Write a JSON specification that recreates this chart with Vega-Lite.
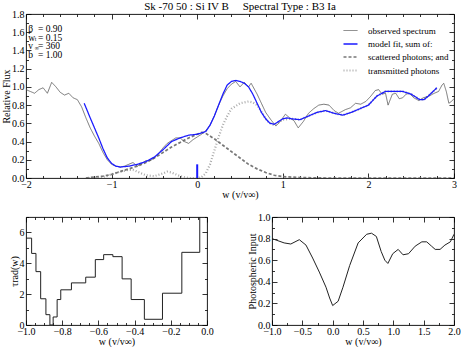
{
  "$schema": "https://vega.github.io/schema/vega-lite/v6.json",
  "background": "white",
  "padding": {"left": 0, "top": 0, "right": 0, "bottom": 0},
  "config": {
    "view": {"stroke": "black", "strokeWidth": 0.9},
    "axis": {
      "grid": false, "domain": false, "tickColor": "#000", "labelColor": "#000", "titleColor": "#000",
      "labelFont": "Liberation Serif", "titleFont": "Liberation Serif", "labelFontSize": 10, "titleFontSize": 10,
      "titleFontWeight": "normal", "labelFlush": false, "labelOverlap": false, "tickWidth": 0.8
    },
    "text": {"font": "Liberation Serif"}
  },
  "datasets": {
    "spec": [
      {"s": "\u00a0transmitted photons", "w": -1.3, "f": 0.0},
      {"s": "\u00a0transmitted photons", "w": -1.2, "f": 0.0},
      {"s": "\u00a0transmitted photons", "w": -1.1, "f": 0.01},
      {"s": "\u00a0transmitted photons", "w": -1.0, "f": 0.04},
      {"s": "\u00a0transmitted photons", "w": -0.9, "f": 0.07},
      {"s": "\u00a0transmitted photons", "w": -0.8, "f": 0.09},
      {"s": "\u00a0transmitted photons", "w": -0.75, "f": 0.09},
      {"s": "\u00a0transmitted photons", "w": -0.7, "f": 0.07},
      {"s": "\u00a0transmitted photons", "w": -0.6, "f": 0.03},
      {"s": "\u00a0transmitted photons", "w": -0.5, "f": 0.02},
      {"s": "\u00a0transmitted photons", "w": -0.4, "f": 0.05},
      {"s": "\u00a0transmitted photons", "w": -0.35, "f": 0.07},
      {"s": "\u00a0transmitted photons", "w": -0.3, "f": 0.06},
      {"s": "\u00a0transmitted photons", "w": -0.2, "f": 0.02},
      {"s": "\u00a0transmitted photons", "w": -0.1, "f": 0.0},
      {"s": "\u00a0transmitted photons", "w": 0.0, "f": 0.0},
      {"s": "\u00a0transmitted photons", "w": 0.05, "f": 0.01},
      {"s": "\u00a0transmitted photons", "w": 0.1, "f": 0.05},
      {"s": "\u00a0transmitted photons", "w": 0.15, "f": 0.15},
      {"s": "\u00a0transmitted photons", "w": 0.2, "f": 0.3},
      {"s": "\u00a0transmitted photons", "w": 0.25, "f": 0.45},
      {"s": "\u00a0transmitted photons", "w": 0.3, "f": 0.58},
      {"s": "\u00a0transmitted photons", "w": 0.35, "f": 0.68},
      {"s": "\u00a0transmitted photons", "w": 0.4, "f": 0.76},
      {"s": "\u00a0transmitted photons", "w": 0.5, "f": 0.82},
      {"s": "\u00a0transmitted photons", "w": 0.6, "f": 0.84},
      {"s": "\u00a0transmitted photons", "w": 0.65, "f": 0.83},
      {"s": "\u00a0transmitted photons", "w": 0.7, "f": 0.8},
      {"s": "\u00a0transmitted photons", "w": 0.75, "f": 0.73},
      {"s": "\u00a0transmitted photons", "w": 0.8, "f": 0.65},
      {"s": "\u00a0transmitted photons", "w": 0.85, "f": 0.6},
      {"s": "\u00a0transmitted photons", "w": 0.9, "f": 0.58},
      {"s": "\u00a0transmitted photons", "w": 1.0, "f": 0.64},
      {"s": "\u00a0transmitted photons", "w": 1.1, "f": 0.65},
      {"s": "\u00a0transmitted photons", "w": 1.2, "f": 0.64},
      {"s": "\u00a0transmitted photons", "w": 1.3, "f": 0.68},
      {"s": "\u00a0transmitted photons", "w": 1.4, "f": 0.72},
      {"s": "\u00a0transmitted photons", "w": 1.5, "f": 0.74},
      {"s": "\u00a0transmitted photons", "w": 1.6, "f": 0.71},
      {"s": "\u00a0transmitted photons", "w": 1.7, "f": 0.69},
      {"s": "\u00a0transmitted photons", "w": 1.8, "f": 0.72},
      {"s": "\u00a0transmitted photons", "w": 1.9, "f": 0.76},
      {"s": "\u00a0transmitted photons", "w": 2.0, "f": 0.8},
      {"s": "\u00a0transmitted photons", "w": 2.1, "f": 0.9},
      {"s": "\u00a0transmitted photons", "w": 2.2, "f": 0.95},
      {"s": "\u00a0transmitted photons", "w": 2.4, "f": 0.95},
      {"s": "\u00a0transmitted photons", "w": 2.5, "f": 0.92},
      {"s": "\u00a0transmitted photons", "w": 2.6, "f": 0.86},
      {"s": "\u00a0transmitted photons", "w": 2.65, "f": 0.86},
      {"s": "\u00a0transmitted photons", "w": 2.7, "f": 0.9},
      {"s": "\u00a0transmitted photons", "w": 2.8, "f": 0.99},
      {"s": "\u00a0scattered photons; and", "w": -1.3, "f": 0.0},
      {"s": "\u00a0scattered photons; and", "w": -1.2, "f": 0.01},
      {"s": "\u00a0scattered photons; and", "w": -1.1, "f": 0.02},
      {"s": "\u00a0scattered photons; and", "w": -1.0, "f": 0.04},
      {"s": "\u00a0scattered photons; and", "w": -0.9, "f": 0.07},
      {"s": "\u00a0scattered photons; and", "w": -0.8, "f": 0.1},
      {"s": "\u00a0scattered photons; and", "w": -0.7, "f": 0.13},
      {"s": "\u00a0scattered photons; and", "w": -0.6, "f": 0.17},
      {"s": "\u00a0scattered photons; and", "w": -0.5, "f": 0.22},
      {"s": "\u00a0scattered photons; and", "w": -0.4, "f": 0.28},
      {"s": "\u00a0scattered photons; and", "w": -0.3, "f": 0.34},
      {"s": "\u00a0scattered photons; and", "w": -0.2, "f": 0.39},
      {"s": "\u00a0scattered photons; and", "w": -0.1, "f": 0.44},
      {"s": "\u00a0scattered photons; and", "w": 0.0, "f": 0.48},
      {"s": "\u00a0scattered photons; and", "w": 0.05, "f": 0.5},
      {"s": "\u00a0scattered photons; and", "w": 0.1, "f": 0.49},
      {"s": "\u00a0scattered photons; and", "w": 0.2, "f": 0.43},
      {"s": "\u00a0scattered photons; and", "w": 0.3, "f": 0.36},
      {"s": "\u00a0scattered photons; and", "w": 0.4, "f": 0.29},
      {"s": "\u00a0scattered photons; and", "w": 0.5, "f": 0.22},
      {"s": "\u00a0scattered photons; and", "w": 0.6, "f": 0.15},
      {"s": "\u00a0scattered photons; and", "w": 0.7, "f": 0.1},
      {"s": "\u00a0scattered photons; and", "w": 0.8, "f": 0.06},
      {"s": "\u00a0scattered photons; and", "w": 0.9, "f": 0.03},
      {"s": "\u00a0scattered photons; and", "w": 1.0, "f": 0.015},
      {"s": "\u00a0scattered photons; and", "w": 1.2, "f": 0.005},
      {"s": "\u00a0scattered photons; and", "w": 1.5, "f": 0.0},
      {"s": "\u00a0scattered photons; and", "w": 3.0, "f": 0.0},
      {"s": "observed spectrum", "w": -2.0, "f": 0.97},
      {"s": "observed spectrum", "w": -1.95, "f": 0.95},
      {"s": "observed spectrum", "w": -1.9, "f": 0.93},
      {"s": "observed spectrum", "w": -1.85, "f": 0.97},
      {"s": "observed spectrum", "w": -1.8, "f": 0.99},
      {"s": "observed spectrum", "w": -1.75, "f": 0.93},
      {"s": "observed spectrum", "w": -1.7, "f": 1.05},
      {"s": "observed spectrum", "w": -1.65, "f": 1.0},
      {"s": "observed spectrum", "w": -1.6, "f": 0.94},
      {"s": "observed spectrum", "w": -1.55, "f": 0.91},
      {"s": "observed spectrum", "w": -1.5, "f": 0.93},
      {"s": "observed spectrum", "w": -1.45, "f": 0.88},
      {"s": "observed spectrum", "w": -1.4, "f": 0.86},
      {"s": "observed spectrum", "w": -1.35, "f": 0.78},
      {"s": "observed spectrum", "w": -1.3, "f": 0.66},
      {"s": "observed spectrum", "w": -1.25, "f": 0.55},
      {"s": "observed spectrum", "w": -1.2, "f": 0.46},
      {"s": "observed spectrum", "w": -1.15, "f": 0.38},
      {"s": "observed spectrum", "w": -1.1, "f": 0.28},
      {"s": "observed spectrum", "w": -1.05, "f": 0.2},
      {"s": "observed spectrum", "w": -1.0, "f": 0.15},
      {"s": "observed spectrum", "w": -0.95, "f": 0.13},
      {"s": "observed spectrum", "w": -0.9, "f": 0.12},
      {"s": "observed spectrum", "w": -0.85, "f": 0.13},
      {"s": "observed spectrum", "w": -0.8, "f": 0.15},
      {"s": "observed spectrum", "w": -0.75, "f": 0.17},
      {"s": "observed spectrum", "w": -0.7, "f": 0.13},
      {"s": "observed spectrum", "w": -0.65, "f": 0.16},
      {"s": "observed spectrum", "w": -0.6, "f": 0.19},
      {"s": "observed spectrum", "w": -0.55, "f": 0.19},
      {"s": "observed spectrum", "w": -0.5, "f": 0.22},
      {"s": "observed spectrum", "w": -0.45, "f": 0.27},
      {"s": "observed spectrum", "w": -0.4, "f": 0.33},
      {"s": "observed spectrum", "w": -0.35, "f": 0.38},
      {"s": "observed spectrum", "w": -0.3, "f": 0.41},
      {"s": "observed spectrum", "w": -0.25, "f": 0.44},
      {"s": "observed spectrum", "w": -0.2, "f": 0.44},
      {"s": "observed spectrum", "w": -0.15, "f": 0.4},
      {"s": "observed spectrum", "w": -0.1, "f": 0.38},
      {"s": "observed spectrum", "w": -0.05, "f": 0.42},
      {"s": "observed spectrum", "w": 0.0, "f": 0.45},
      {"s": "observed spectrum", "w": 0.05, "f": 0.48},
      {"s": "observed spectrum", "w": 0.1, "f": 0.52},
      {"s": "observed spectrum", "w": 0.15, "f": 0.58},
      {"s": "observed spectrum", "w": 0.2, "f": 0.68},
      {"s": "observed spectrum", "w": 0.25, "f": 0.8},
      {"s": "observed spectrum", "w": 0.3, "f": 0.9},
      {"s": "observed spectrum", "w": 0.35, "f": 0.98},
      {"s": "observed spectrum", "w": 0.4, "f": 1.03},
      {"s": "observed spectrum", "w": 0.45, "f": 1.06},
      {"s": "observed spectrum", "w": 0.5, "f": 1.0},
      {"s": "observed spectrum", "w": 0.55, "f": 1.05},
      {"s": "observed spectrum", "w": 0.6, "f": 1.0},
      {"s": "observed spectrum", "w": 0.63, "f": 1.04},
      {"s": "observed spectrum", "w": 0.7, "f": 0.92},
      {"s": "observed spectrum", "w": 0.75, "f": 0.82},
      {"s": "observed spectrum", "w": 0.8, "f": 0.72},
      {"s": "observed spectrum", "w": 0.86, "f": 0.64},
      {"s": "observed spectrum", "w": 0.92, "f": 0.57},
      {"s": "observed spectrum", "w": 0.97, "f": 0.62},
      {"s": "observed spectrum", "w": 1.03, "f": 0.7},
      {"s": "observed spectrum", "w": 1.08, "f": 0.66},
      {"s": "observed spectrum", "w": 1.13, "f": 0.63},
      {"s": "observed spectrum", "w": 1.18, "f": 0.55},
      {"s": "observed spectrum", "w": 1.24, "f": 0.62},
      {"s": "observed spectrum", "w": 1.3, "f": 0.71},
      {"s": "observed spectrum", "w": 1.36, "f": 0.76},
      {"s": "observed spectrum", "w": 1.42, "f": 0.8},
      {"s": "observed spectrum", "w": 1.48, "f": 0.81},
      {"s": "observed spectrum", "w": 1.54, "f": 0.8},
      {"s": "observed spectrum", "w": 1.6, "f": 0.74},
      {"s": "observed spectrum", "w": 1.65, "f": 0.71},
      {"s": "observed spectrum", "w": 1.73, "f": 0.75},
      {"s": "observed spectrum", "w": 1.79, "f": 0.77},
      {"s": "observed spectrum", "w": 1.85, "f": 0.82},
      {"s": "observed spectrum", "w": 1.91, "f": 0.81},
      {"s": "observed spectrum", "w": 1.97, "f": 0.84},
      {"s": "observed spectrum", "w": 2.03, "f": 0.9},
      {"s": "observed spectrum", "w": 2.08, "f": 0.96},
      {"s": "observed spectrum", "w": 2.12, "f": 0.97},
      {"s": "observed spectrum", "w": 2.16, "f": 0.92},
      {"s": "observed spectrum", "w": 2.2, "f": 0.93},
      {"s": "observed spectrum", "w": 2.23, "f": 0.8},
      {"s": "observed spectrum", "w": 2.28, "f": 0.92},
      {"s": "observed spectrum", "w": 2.32, "f": 0.93},
      {"s": "observed spectrum", "w": 2.36, "f": 0.87},
      {"s": "observed spectrum", "w": 2.4, "f": 0.88},
      {"s": "observed spectrum", "w": 2.44, "f": 0.92},
      {"s": "observed spectrum", "w": 2.48, "f": 0.93},
      {"s": "observed spectrum", "w": 2.53, "f": 0.88},
      {"s": "observed spectrum", "w": 2.59, "f": 0.85},
      {"s": "observed spectrum", "w": 2.64, "f": 0.88},
      {"s": "observed spectrum", "w": 2.71, "f": 0.9},
      {"s": "observed spectrum", "w": 2.77, "f": 0.93},
      {"s": "observed spectrum", "w": 2.82, "f": 0.95},
      {"s": "observed spectrum", "w": 2.86, "f": 1.02},
      {"s": "observed spectrum", "w": 2.88, "f": 1.04},
      {"s": "observed spectrum", "w": 2.91, "f": 0.95},
      {"s": "observed spectrum", "w": 2.94, "f": 0.82},
      {"s": "observed spectrum", "w": 2.97, "f": 0.84},
      {"s": "observed spectrum", "w": 3.0, "f": 0.87},
      {"s": "model fit, sum of:", "w": -1.32, "f": 0.82},
      {"s": "model fit, sum of:", "w": -1.25, "f": 0.66},
      {"s": "model fit, sum of:", "w": -1.2, "f": 0.55},
      {"s": "model fit, sum of:", "w": -1.15, "f": 0.44},
      {"s": "model fit, sum of:", "w": -1.1, "f": 0.32},
      {"s": "model fit, sum of:", "w": -1.05, "f": 0.22},
      {"s": "model fit, sum of:", "w": -1.0, "f": 0.16},
      {"s": "model fit, sum of:", "w": -0.95, "f": 0.13},
      {"s": "model fit, sum of:", "w": -0.9, "f": 0.12},
      {"s": "model fit, sum of:", "w": -0.8, "f": 0.13},
      {"s": "model fit, sum of:", "w": -0.7, "f": 0.15},
      {"s": "model fit, sum of:", "w": -0.6, "f": 0.18},
      {"s": "model fit, sum of:", "w": -0.5, "f": 0.23},
      {"s": "model fit, sum of:", "w": -0.4, "f": 0.31},
      {"s": "model fit, sum of:", "w": -0.3, "f": 0.4},
      {"s": "model fit, sum of:", "w": -0.2, "f": 0.44},
      {"s": "model fit, sum of:", "w": -0.1, "f": 0.47},
      {"s": "model fit, sum of:", "w": 0.0, "f": 0.48},
      {"s": "model fit, sum of:", "w": 0.1, "f": 0.51},
      {"s": "model fit, sum of:", "w": 0.15, "f": 0.58},
      {"s": "model fit, sum of:", "w": 0.2, "f": 0.68},
      {"s": "model fit, sum of:", "w": 0.25, "f": 0.8},
      {"s": "model fit, sum of:", "w": 0.3, "f": 0.92},
      {"s": "model fit, sum of:", "w": 0.35, "f": 1.02},
      {"s": "model fit, sum of:", "w": 0.4, "f": 1.06},
      {"s": "model fit, sum of:", "w": 0.45, "f": 1.07},
      {"s": "model fit, sum of:", "w": 0.5, "f": 1.06},
      {"s": "model fit, sum of:", "w": 0.55, "f": 1.04},
      {"s": "model fit, sum of:", "w": 0.6, "f": 1.0},
      {"s": "model fit, sum of:", "w": 0.65, "f": 0.92},
      {"s": "model fit, sum of:", "w": 0.7, "f": 0.82},
      {"s": "model fit, sum of:", "w": 0.75, "f": 0.72},
      {"s": "model fit, sum of:", "w": 0.8, "f": 0.65},
      {"s": "model fit, sum of:", "w": 0.85, "f": 0.6},
      {"s": "model fit, sum of:", "w": 0.9, "f": 0.59},
      {"s": "model fit, sum of:", "w": 0.95, "f": 0.62},
      {"s": "model fit, sum of:", "w": 1.0, "f": 0.65},
      {"s": "model fit, sum of:", "w": 1.05, "f": 0.66},
      {"s": "model fit, sum of:", "w": 1.1, "f": 0.65},
      {"s": "model fit, sum of:", "w": 1.2, "f": 0.64},
      {"s": "model fit, sum of:", "w": 1.3, "f": 0.68},
      {"s": "model fit, sum of:", "w": 1.4, "f": 0.72},
      {"s": "model fit, sum of:", "w": 1.5, "f": 0.74},
      {"s": "model fit, sum of:", "w": 1.6, "f": 0.71},
      {"s": "model fit, sum of:", "w": 1.7, "f": 0.69},
      {"s": "model fit, sum of:", "w": 1.8, "f": 0.72},
      {"s": "model fit, sum of:", "w": 1.9, "f": 0.76},
      {"s": "model fit, sum of:", "w": 2.0, "f": 0.8},
      {"s": "model fit, sum of:", "w": 2.1, "f": 0.9},
      {"s": "model fit, sum of:", "w": 2.2, "f": 0.95},
      {"s": "model fit, sum of:", "w": 2.4, "f": 0.95},
      {"s": "model fit, sum of:", "w": 2.5, "f": 0.92},
      {"s": "model fit, sum of:", "w": 2.6, "f": 0.86},
      {"s": "model fit, sum of:", "w": 2.65, "f": 0.86},
      {"s": "model fit, sum of:", "w": 2.7, "f": 0.9},
      {"s": "model fit, sum of:", "w": 2.8, "f": 0.99}
    ],
    "tau": [
      {"w": -1.0, "t": 5.63}, {"w": -0.969, "t": 4.64}, {"w": -0.945, "t": 3.46}, {"w": -0.919, "t": 1.7},
      {"w": -0.89, "t": 0.67}, {"w": -0.868, "t": 0.0}, {"w": -0.85, "t": 0.52}, {"w": -0.828, "t": 1.65},
      {"w": -0.808, "t": 2.28}, {"w": -0.749, "t": 2.73}, {"w": -0.67, "t": 3.1}, {"w": -0.617, "t": 4.24},
      {"w": -0.571, "t": 4.56}, {"w": -0.52, "t": 4.43}, {"w": -0.469, "t": 2.99}, {"w": -0.419, "t": 1.65},
      {"w": -0.346, "t": 0.37}, {"w": -0.246, "t": 2.06}, {"w": -0.139, "t": 4.71}, {"w": -0.04, "t": 9.0},
      {"w": 0.0, "t": 9.0}
    ],
    "phot": [
      {"w": -1.0, "p": 0.8}, {"w": -0.8, "p": 0.76}, {"w": -0.69, "p": 0.75}, {"w": -0.55, "p": 0.79},
      {"w": -0.44, "p": 0.74}, {"w": -0.33, "p": 0.62}, {"w": -0.22, "p": 0.49}, {"w": -0.11, "p": 0.35},
      {"w": -0.05, "p": 0.25}, {"w": 0.0, "p": 0.18}, {"w": 0.09, "p": 0.22}, {"w": 0.17, "p": 0.35},
      {"w": 0.28, "p": 0.55}, {"w": 0.42, "p": 0.76}, {"w": 0.56, "p": 0.84}, {"w": 0.64, "p": 0.85},
      {"w": 0.72, "p": 0.82}, {"w": 0.8, "p": 0.68}, {"w": 0.86, "p": 0.6}, {"w": 0.91, "p": 0.57},
      {"w": 0.99, "p": 0.66}, {"w": 1.08, "p": 0.7}, {"w": 1.16, "p": 0.65}, {"w": 1.25, "p": 0.66},
      {"w": 1.36, "p": 0.73}, {"w": 1.47, "p": 0.77}, {"w": 1.55, "p": 0.77}, {"w": 1.63, "p": 0.73},
      {"w": 1.69, "p": 0.7}, {"w": 1.77, "p": 0.7}, {"w": 1.85, "p": 0.74}, {"w": 1.94, "p": 0.77},
      {"w": 2.0, "p": 0.84}
    ]
  },
  "spacing": 39,
  "bounds": "flush",
  "vconcat": [
    {
      "width": 428,
      "height": 164,
      "title": {"text": "Sk -70 50 : Si IV B \u00a0\u00a0\u00a0\u00a0Spectral Type : B3 Ia", "font": "Liberation Serif", "fontSize": 11, "fontWeight": "normal", "offset": -3, "frame": "group", "anchor": "middle", "color": "#000"},
      "resolve": {"axis": {"x": "independent", "y": "independent"}},
      "layer": [
        {
          "data": {"name": "spec"},
          "mark": {"type": "line", "clip": true},
          "encoding": {
            "x": {"field": "w", "type": "quantitative", "scale": {"domain": [-2, 3], "nice": false, "zero": false},
              "axis": {"orient": "bottom", "title": "w (v/v\u221e)", "titlePadding": -2,
                "values": [-2, -1.8, -1.6, -1.4, -1.2, -1, -0.8, -0.6, -0.4, -0.2, 0, 0.2, 0.4, 0.6, 0.8, 1, 1.2, 1.4, 1.6, 1.8, 2, 2.2, 2.4, 2.6, 2.8, 3],
                "labelExpr": "abs(datum.value - round(datum.value)) < 0.001 ? format(datum.value, 'd') : ''",
                "tickSize": {"condition": {"test": "abs(datum.value - round(datum.value)) < 0.001", "value": -5}, "value": -2.5},
                "labelPadding": 6}},
            "y": {"field": "f", "type": "quantitative", "scale": {"domain": [0, 1.8], "nice": false},
              "axis": {"orient": "left", "title": "Relative Flux", "titlePadding": 0.5,
                "values": [0, 0.1, 0.2, 0.3, 0.4, 0.5, 0.6, 0.7, 0.8, 0.9, 1, 1.1, 1.2, 1.3, 1.4, 1.5, 1.6, 1.7, 1.8],
                "labelExpr": "abs(datum.value*5 - round(datum.value*5)) < 0.001 ? format(datum.value, '.1f') : ''",
                "tickSize": {"condition": {"test": "abs(datum.value*5 - round(datum.value*5)) < 0.001", "value": -5}, "value": -2.5},
                "labelPadding": 7}},
            "color": {"field": "s", "type": "nominal",
              "scale": {"domain": ["observed spectrum", "model fit, sum of:", "\u00a0scattered photons; and", "\u00a0transmitted photons"], "range": ["#555555", "#1a1aff", "#777777", "#aaaaaa"]},
              "legend": {"title": null, "orient": "none", "legendX": 316, "legendY": 9, "padding": 0, "labelFont": "Liberation Serif", "labelFontSize": 9, "labelColor": "#000", "symbolType": "stroke", "symbolSize": 196, "rowPadding": -2.7, "labelOffset": 9}},
            "strokeDash": {"field": "s", "type": "nominal",
              "scale": {"domain": ["observed spectrum", "model fit, sum of:", "\u00a0scattered photons; and", "\u00a0transmitted photons"], "range": [[1, 0], [1, 0], [3, 2], [1, 2]]},
              "legend": {"title": null, "orient": "none", "legendX": 316, "legendY": 9, "padding": 0, "labelFont": "Liberation Serif", "labelFontSize": 9, "labelColor": "#000", "symbolType": "stroke", "symbolSize": 196, "rowPadding": -2.7, "labelOffset": 9}},
            "strokeWidth": {"field": "s", "type": "nominal",
              "scale": {"domain": ["observed spectrum", "model fit, sum of:", "\u00a0scattered photons; and", "\u00a0transmitted photons"], "range": [0.8, 2.2, 0.8, 0.8]},
              "legend": {"title": null, "orient": "none", "legendX": 316, "legendY": 9, "padding": 0, "labelFont": "Liberation Serif", "labelFontSize": 9, "labelColor": "#000", "symbolType": "stroke", "symbolSize": 196, "rowPadding": -2.7, "labelOffset": 9}}
          }
        },
        {
          "data": {"values": [{"w": 0, "a": 0, "b": 0.15}]},
          "mark": {"type": "rule", "color": "#1a1aff", "strokeWidth": 2},
          "encoding": {
            "x": {"field": "w", "type": "quantitative",
              "axis": {"orient": "top", "title": null, "labels": false,
                "values": [-2, -1.8, -1.6, -1.4, -1.2, -1, -0.8, -0.6, -0.4, -0.2, 0, 0.2, 0.4, 0.6, 0.8, 1, 1.2, 1.4, 1.6, 1.8, 2, 2.2, 2.4, 2.6, 2.8, 3],
                "tickSize": {"condition": {"test": "abs(datum.value - round(datum.value)) < 0.001", "value": -5}, "value": -2.5}}},
            "y": {"field": "a", "type": "quantitative",
              "axis": {"orient": "right", "title": null, "labels": false,
                "values": [0, 0.1, 0.2, 0.3, 0.4, 0.5, 0.6, 0.7, 0.8, 0.9, 1, 1.1, 1.2, 1.3, 1.4, 1.5, 1.6, 1.7, 1.8],
                "tickSize": {"condition": {"test": "abs(datum.value*5 - round(datum.value*5)) < 0.001", "value": -5}, "value": -2.5}}},
            "y2": {"field": "b"}
          }
        },
        {
          "data": {"values": [{}]},
          "mark": {"type": "text", "text": ["\u03b2", "w", "v", "b"], "align": "left", "baseline": "top", "fontSize": 9.5, "lineHeight": 8.7, "color": "#000"},
          "encoding": {"x": {"datum": -1.975, "axis": null}, "y": {"datum": 1.69, "axis": null}}
        },
        {
          "data": {"values": [{}]},
          "mark": {"type": "text", "text": [" ", "t", "\u221e", " "], "align": "left", "baseline": "top", "fontSize": 6, "lineHeight": 8.7, "dx": 6.5, "dy": 3.5, "color": "#000"},
          "encoding": {"x": {"datum": -1.975, "axis": null}, "y": {"datum": 1.69, "axis": null}}
        },
        {
          "data": {"values": [{}]},
          "mark": {"type": "text", "text": ["= 0.90", "= 0.15", "= 360", "= 1.00"], "align": "left", "baseline": "top", "fontSize": 9.5, "lineHeight": 8.7, "color": "#000"},
          "encoding": {"x": {"datum": -1.86, "axis": null}, "y": {"datum": 1.69, "axis": null}}
        }
      ]
    },
    {
      "spacing": 65,
      "bounds": "flush",
      "hconcat": [
        {
          "width": 181,
          "height": 108,
          "data": {"name": "tau"},
          "resolve": {"axis": {"x": "independent", "y": "independent"}},
          "layer": [
            {
              "mark": {"type": "line", "interpolate": "step-after", "clip": true, "color": "#222", "strokeWidth": 1},
              "encoding": {
                "x": {"field": "w", "type": "quantitative", "scale": {"domain": [-1, 0], "nice": false, "zero": false},
                  "axis": {"orient": "bottom", "title": "w (v/v\u221e)", "titlePadding": -2,
                    "values": [-1, -0.95, -0.9, -0.85, -0.8, -0.75, -0.7, -0.65, -0.6, -0.55, -0.5, -0.45, -0.4, -0.35, -0.3, -0.25, -0.2, -0.15, -0.1, -0.05, 0],
                    "labelExpr": "abs(datum.value*5 - round(datum.value*5)) < 0.001 ? format(datum.value, '.1f') : ''",
                    "tickSize": {"condition": {"test": "abs(datum.value*5 - round(datum.value*5)) < 0.001", "value": -5}, "value": -2.5},
                    "labelPadding": 6}},
                "y": {"field": "t", "type": "quantitative", "scale": {"domain": [0, 7], "nice": false},
                  "axis": {"orient": "left", "title": "\u03c4rad(w)", "titlePadding": 0,
                    "values": [0, 1, 2, 3, 4, 5, 6, 7],
                    "labelExpr": "abs(datum.value/2 - round(datum.value/2)) < 0.001 && datum.value < 7 ? format(datum.value, 'd') : ''",
                    "tickSize": {"condition": {"test": "abs(datum.value/2 - round(datum.value/2)) < 0.001", "value": -5}, "value": -2.5},
                    "labelPadding": 7}}
              }
            },
            {
              "mark": {"type": "line", "interpolate": "step-after", "opacity": 0},
              "encoding": {
                "x": {"field": "w", "type": "quantitative",
                  "axis": {"orient": "top", "title": null, "labels": false,
                    "values": [-1, -0.95, -0.9, -0.85, -0.8, -0.75, -0.7, -0.65, -0.6, -0.55, -0.5, -0.45, -0.4, -0.35, -0.3, -0.25, -0.2, -0.15, -0.1, -0.05, 0],
                    "tickSize": {"condition": {"test": "abs(datum.value*5 - round(datum.value*5)) < 0.001", "value": -5}, "value": -2.5}}},
                "y": {"field": "t", "type": "quantitative",
                  "axis": {"orient": "right", "title": null, "labels": false,
                    "values": [0, 1, 2, 3, 4, 5, 6, 7],
                    "tickSize": {"condition": {"test": "abs(datum.value/2 - round(datum.value/2)) < 0.001", "value": -5}, "value": -2.5}}}
              }
            }
          ]
        },
        {
          "width": 182,
          "height": 108,
          "data": {"name": "phot"},
          "resolve": {"axis": {"x": "independent", "y": "independent"}},
          "layer": [
            {
              "mark": {"type": "line", "clip": true, "color": "#222", "strokeWidth": 1},
              "encoding": {
                "x": {"field": "w", "type": "quantitative", "scale": {"domain": [-1, 2], "nice": false, "zero": false},
                  "axis": {"orient": "bottom", "title": "w (v/v\u221e)", "titlePadding": -2,
                    "values": [-1, -0.75, -0.5, -0.25, 0, 0.25, 0.5, 0.75, 1, 1.25, 1.5, 1.75, 2],
                    "labelExpr": "abs(datum.value*2 - round(datum.value*2)) < 0.001 ? format(datum.value, '.1f') : ''",
                    "tickSize": {"condition": {"test": "abs(datum.value*2 - round(datum.value*2)) < 0.001", "value": -5}, "value": -2.5},
                    "labelPadding": 6}},
                "y": {"field": "p", "type": "quantitative", "scale": {"domain": [0, 1], "nice": false},
                  "axis": {"orient": "left", "title": "Photospheric Input", "titlePadding": 0.5,
                    "values": [0, 0.1, 0.2, 0.3, 0.4, 0.5, 0.6, 0.7, 0.8, 0.9, 1],
                    "labelExpr": "abs(datum.value*5 - round(datum.value*5)) < 0.001 ? format(datum.value, '.1f') : ''",
                    "tickSize": {"condition": {"test": "abs(datum.value*5 - round(datum.value*5)) < 0.001", "value": -5}, "value": -2.5},
                    "labelPadding": 7}}
              }
            },
            {
              "mark": {"type": "line", "opacity": 0},
              "encoding": {
                "x": {"field": "w", "type": "quantitative",
                  "axis": {"orient": "top", "title": null, "labels": false,
                    "values": [-1, -0.75, -0.5, -0.25, 0, 0.25, 0.5, 0.75, 1, 1.25, 1.5, 1.75, 2],
                    "tickSize": {"condition": {"test": "abs(datum.value*2 - round(datum.value*2)) < 0.001", "value": -5}, "value": -2.5}}},
                "y": {"field": "p", "type": "quantitative",
                  "axis": {"orient": "right", "title": null, "labels": false,
                    "values": [0, 0.1, 0.2, 0.3, 0.4, 0.5, 0.6, 0.7, 0.8, 0.9, 1],
                    "tickSize": {"condition": {"test": "abs(datum.value*5 - round(datum.value*5)) < 0.001", "value": -5}, "value": -2.5}}}
              }
            }
          ]
        }
      ]
    }
  ]
}
